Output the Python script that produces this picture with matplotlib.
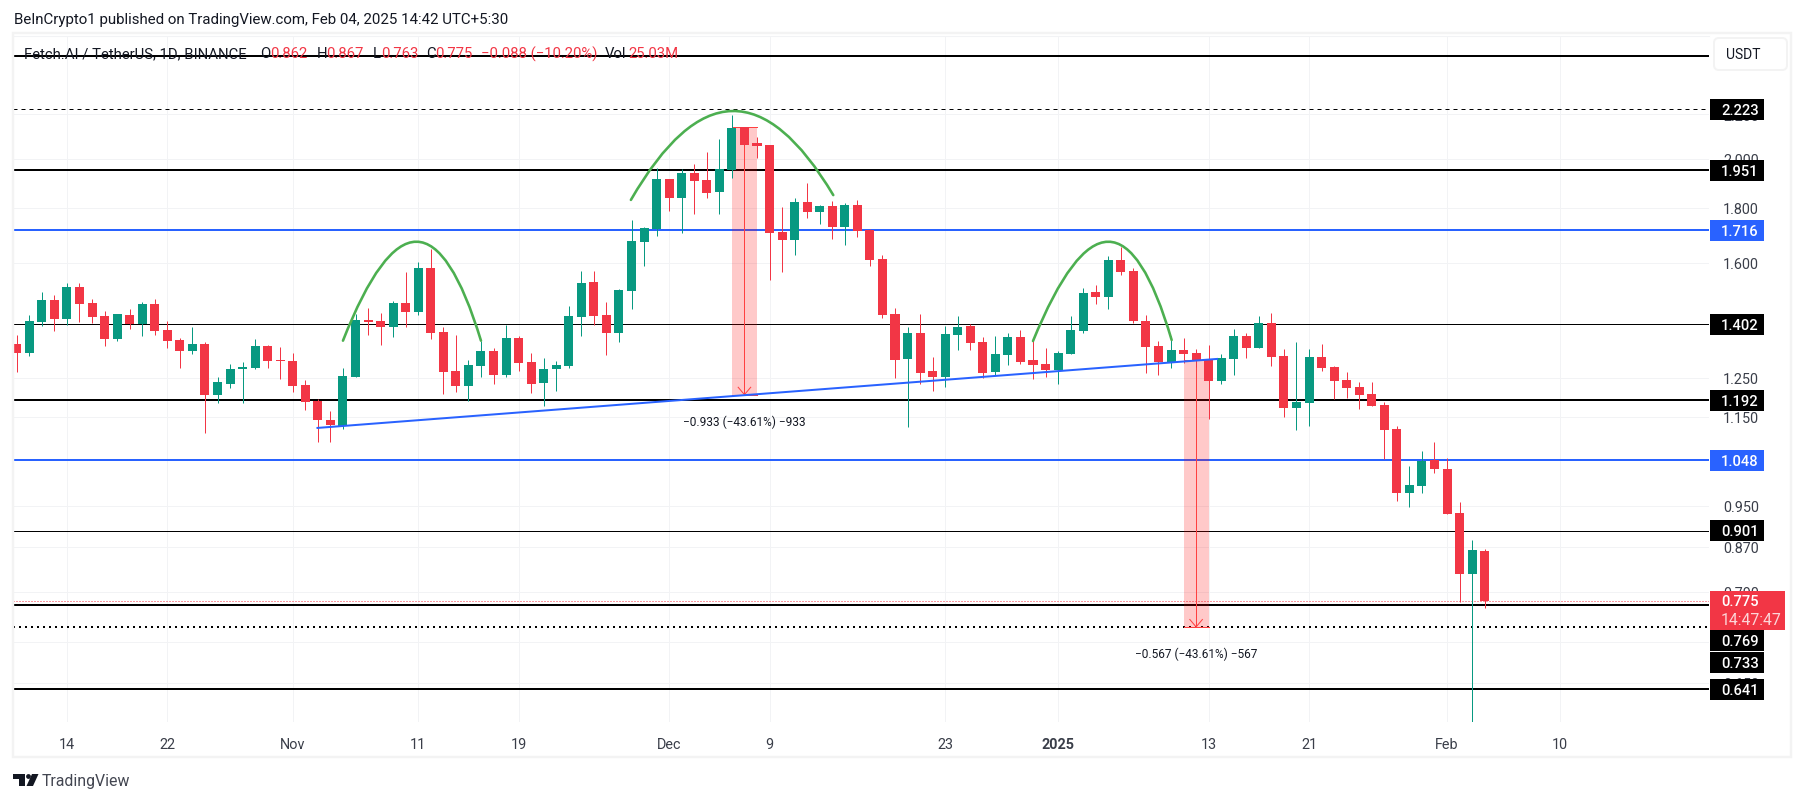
import numpy as np
import pandas as pd
import matplotlib
matplotlib.use("Agg")
import matplotlib.pyplot as plt
import matplotlib.dates as mdates
from matplotlib.patches import Rectangle, FancyBboxPatch, PathPatch, Polygon
from matplotlib.path import Path
from matplotlib.ticker import NullLocator

plt.rcParams['font.family'] = ['Roboto', 'DejaVu Sans']

# FET/USDT daily candles from 2024-10-10
opens = [1.344,1.319,1.409,1.477,1.418,1.519,1.468,1.427,1.359,1.431,1.402,1.465,1.385,1.356,1.324,1.344,1.205,1.234,1.274,1.277,
         1.339,1.299,1.296,1.231,1.190,1.142,1.128,1.252,1.415,1.412,1.394,1.468,1.440,1.582,1.379,1.269,1.229,1.282,1.324,1.258,
         1.362,1.293,1.236,1.274,1.283,1.424,1.535,1.431,1.376,1.506,1.673,1.720,1.915,1.838,1.940,1.911,1.862,1.952,2.139,2.068,
         2.060,1.709,1.680,1.823,1.784,1.807,1.728,1.811,1.716,1.613,1.434,1.302,1.376,1.269,1.252,1.370,1.397,1.350,1.266,1.313,
         1.365,1.299,1.288,1.271,1.316,1.382,1.503,1.487,1.610,1.572,1.412,1.339,1.291,1.327,1.319,1.302,1.242,1.302,1.368,1.333,
         1.406,1.310,1.172,1.185,1.307,1.280,1.244,1.226,1.208,1.179,1.120,0.977,0.991,1.048,1.028,0.936,0.821,0.862]
highs = [1.370,1.431,1.503,1.493,1.532,1.532,1.480,1.443,1.434,1.449,1.471,1.480,1.412,1.362,1.394,1.350,1.252,1.288,1.293,1.359,
         1.341,1.336,1.319,1.244,1.195,1.164,1.277,1.434,1.452,1.437,1.474,1.569,1.603,1.648,1.394,1.370,1.299,1.353,1.333,1.400,
         1.368,1.319,1.305,1.296,1.458,1.572,1.572,1.471,1.513,1.754,1.728,1.961,1.915,1.956,1.977,2.029,2.086,2.196,2.142,2.095,
         2.060,1.803,1.838,1.898,1.811,1.827,1.819,1.831,1.720,1.627,1.452,1.394,1.434,1.307,1.397,1.427,1.403,1.365,1.368,1.376,
         1.385,1.356,1.333,1.324,1.427,1.516,1.526,1.623,1.655,1.582,1.431,1.353,1.369,1.362,1.330,1.341,1.316,1.388,1.376,1.427,
         1.437,1.330,1.350,1.330,1.344,1.282,1.266,1.239,1.239,1.187,1.128,1.035,1.069,1.090,1.053,0.958,0.883,0.867]
lows = [1.267,1.311,1.397,1.382,1.400,1.409,1.406,1.339,1.353,1.388,1.368,1.370,1.333,1.277,1.316,1.111,1.185,1.223,1.185,1.274,
        1.277,1.247,1.213,1.167,1.090,1.090,1.120,1.252,1.370,1.341,1.365,1.394,1.431,1.359,1.208,1.213,1.190,1.252,1.234,1.252,
        1.269,1.210,1.177,1.215,1.278,1.368,1.400,1.313,1.350,1.449,1.589,1.695,1.788,1.705,1.776,1.838,1.776,1.919,2.060,2.003,
        1.542,1.569,1.627,1.761,1.739,1.684,1.662,1.691,1.589,1.421,1.250,1.125,1.234,1.215,1.226,1.327,1.327,1.250,1.258,1.285,
        1.288,1.247,1.252,1.234,1.316,1.376,1.465,1.449,1.559,1.406,1.263,1.258,1.277,1.291,1.280,1.145,1.234,1.258,1.305,1.333,
        1.282,1.150,1.118,1.128,1.269,1.195,1.197,1.169,1.177,1.051,0.960,0.948,0.977,1.019,0.934,0.774,0.544,0.763]
closes = [1.319,1.412,1.477,1.418,1.519,1.465,1.424,1.359,1.434,1.402,1.465,1.382,1.353,1.324,1.344,1.205,1.239,1.274,1.280,1.339,
          1.296,1.296,1.229,1.187,1.142,1.130,1.255,1.415,1.409,1.394,1.468,1.440,1.582,1.376,1.266,1.229,1.285,1.324,1.258,1.362,
          1.291,1.234,1.274,1.285,1.427,1.532,1.427,1.376,1.509,1.676,1.724,1.915,1.838,1.940,1.907,1.858,1.956,2.136,2.060,2.055,
          1.705,1.680,1.823,1.784,1.807,1.728,1.811,1.713,1.610,1.431,1.299,1.376,1.263,1.252,1.373,1.394,1.347,1.263,1.316,1.365,
          1.293,1.285,1.271,1.319,1.385,1.500,1.487,1.610,1.569,1.412,1.336,1.293,1.327,1.316,1.296,1.242,1.305,1.368,1.333,1.406,
          1.307,1.172,1.187,1.307,1.277,1.242,1.223,1.205,1.177,1.118,0.977,0.994,1.046,1.028,0.934,0.821,0.864,0.775]

tick_dates = ['2024-10-14','2024-10-22','2024-11-01','2024-11-11','2024-11-19','2024-12-01','2024-12-09',
              '2024-12-23','2025-01-01','2025-01-13','2025-01-21','2025-02-01','2025-02-10']
tick_labels = ['14','22','Nov','11','19','Dec','9','23','2025','13','21','Feb','10']
price_ticks = [2.2,2.0,1.8,1.6,1.25,1.15,0.95,0.87,0.79,0.71,0.65]

# horizontal levels: price, colour, width in px, style
levels = [(2.493,'black',2,'-'),(2.223,'black',1,(0,(4,4))),(1.951,'black',2,'-'),(1.716,'#2962ff',2,'-'),
          (1.402,'black',1,'-'),(1.192,'black',2,'-'),(1.048,'#2962ff',2,'-'),(0.901,'black',1,'-'),
          (0.769,'black',2,'-'),(0.733,'black',2,(0,(1,2))),(0.641,'black',2,'-')]
# price tags: value, background, shift of the tag from its level in px
tags = [(2.223,'black',0),(1.951,'black',0),(1.716,'#2962ff',0),(1.402,'black',0),(1.192,'black',0),
        (1.048,'#2962ff',0),(0.901,'black',0),(0.769,'black',36),(0.733,'black',36),(0.641,'black',0)]
last_price = 0.775

# head shapes: start, top control, end as (days after Oct 14, price)
arc_days = [(22.00,28.2,33.00),(44.95,53.00,61.08),(77.00,83.45,88.05)]
arc_prices = [(1.354,2.070,1.354),(1.831,2.667,1.850),(1.353,2.069,1.356)]
trend_days = [19.97,91.66]
trend_prices = [1.123,1.302]
# price range boxes
box_days = [(53,55),(89,91)]
box_prices = [(2.139,1.206),(1.300,0.733)]
box_labels = ['\u22120.933 (\u221243.61%) \u2212933','\u22120.567 (\u221243.61%) \u2212567']

px = 0.72  # points per pixel at dpi 100
RED, GREEN, BLUE = '#f23645', '#089981', '#2962ff'
GRID, FRAME, TEXT = '#f2f3f5', '#f3f3f3', '#131722'

dates = pd.date_range('2024-10-10', periods=len(opens))
x = mdates.date2num(dates)
base = mdates.date2num(pd.Timestamp('2024-10-14'))

fig = plt.figure(figsize=(18.04, 8.03), dpi=100, facecolor='white')
ax = fig.add_axes([13/1804, (803-723)/803, (1709-13)/1804, (723-37)/803])
ax.set_yscale('log')
ax.set_ylim(0.5978, 2.602)
ax.set_xlim(base - 4.30, base + 130.88)

for s in ['left', 'right', 'bottom']:
    ax.spines[s].set_visible(False)
ax.spines['top'].set_color(GRID)

ax.yaxis.tick_right()
ax.set_yticks(price_ticks)
ax.set_yticklabels([f'{v:.3f}' for v in price_ticks], fontsize=10.4, color='#3a3e49')
ax.yaxis.set_minor_locator(NullLocator())
ax.tick_params(axis='y', which='both', length=0, pad=10)
ax.set_xticks(mdates.date2num(pd.to_datetime(tick_dates)))
ax.set_xticklabels(tick_labels, fontsize=10.4, color='#3a3e49')
ax.tick_params(axis='x', length=0, pad=11)
ax.get_xticklabels()[tick_labels.index('2025')].set_fontweight('bold')
ax.grid(True, color=GRID, lw=1*px, zorder=0)
ax.set_axisbelow(True)

for val, col, w, ls in levels:
    ax.axhline(val, color=col, lw=w*px, ls=ls, zorder=2)
ax.axhline(last_price, color=RED, lw=1*px, ls=(0,(1,2)), zorder=2)

# range boxes sit over the levels and under the candles
for (d0, d1), (p0, p1) in zip(box_days, box_prices):
    ax.fill_between([base+d0, base+d1], p1, p0, color='#ff0000', alpha=0.21, lw=0, zorder=3)
    ax.plot([base+d0, base+d1], [p0, p0], color='#ff4040', lw=1*px, zorder=3)
    ax.plot([base+d0, base+d1], [p1, p1], color='#ff4040', lw=1*px, zorder=3)
    mid = base + (d0+d1)/2
    ax.plot([mid, mid], [p0, p1], color='#ff4040', lw=1*px, zorder=4)
    ax.plot([mid-0.5, mid, mid+0.5], [p1*1.016, p1, p1*1.016], color='#ff4040', lw=1*px, zorder=4)

o, h, l, c = map(np.array, (opens, highs, lows, closes))
cols = np.where(c > o, GREEN, RED)
ax.vlines(x, l, h, colors=cols, lw=1*px, zorder=5)
ax.bar(x, np.abs(c-o), bottom=np.minimum(o, c), width=0.72, color=cols, lw=0, zorder=5)

for days, prices in zip(arc_days, arc_prices):
    verts = [(base+d, p) for d, p in zip(days, prices)]
    arc = PathPatch(Path(verts, [Path.MOVETO, Path.CURVE3, Path.CURVE3]), fc='none', ec='#4caf50',
                    lw=2.6*px, transform=ax.transData, zorder=6, capstyle='round')
    ax.add_patch(arc)
ax.plot([base+d for d in trend_days], trend_prices, color=BLUE, lw=2*px, zorder=6)

fig.canvas.draw()

# everything outside the price scale is placed in figure pixels on a top layer
top = fig.add_axes([0, 0, 1, 1], zorder=10)
top.set_xlim(0, 1804)
top.set_ylim(803, 0)
top.axis('off')
top.patch.set_alpha(0)

def price_y(p):
    return 803 - ax.transData.transform((base, p))[1]

for (d0, d1), (p0, p1), lab in zip(box_days, box_prices, box_labels):
    mx = ax.transData.transform((base+(d0+d1)/2, p1))[0]
    top.text(mx, price_y(p1)+26.5, lab, fontsize=8.6, color=TEXT, ha='center', va='center')

top.add_patch(Rectangle((12.5, 34), 1778, 724, fc='none', ec=FRAME, lw=2.4*px))

for val, col, shift in tags:
    y = price_y(val) + shift
    top.add_patch(Rectangle((1710, y-10.5), 54, 21, fc=col, ec='none'))
    top.text(1721, y+0.5, f'{val:.3f}', fontsize=10.6, fontweight='medium', color='white', ha='left', va='center')

y = price_y(last_price)
top.add_patch(Rectangle((1710, 592), 75, 39, fc=RED, ec='none'))
top.text(1721, y+0.5, f'{last_price:.3f}', fontsize=10.6, fontweight='medium', color='white', ha='left', va='center')
top.text(1721, 620.5, '14:47:47', fontsize=11.3, color='#fcd5d8', ha='left', va='center')

top.add_patch(FancyBboxPatch((1714, 39), 73, 32, boxstyle='round,pad=0,rounding_size=5', fc='white', ec=FRAME, lw=2*px))
top.text(1743, 55, 'USDT', fontsize=10, color=TEXT, ha='center', va='center')

top.text(13.5, 20, 'BeInCrypto1 published on TradingView.com, Feb 04, 2025 14:42 UTC+5:30',
         fontsize=10.8, color=TEXT, ha='left', va='center')

# legend row above the chart
legend_row = [(23.5,'Fetch.AI / TetherUS, 1D, BINANCE',TEXT),(260,'O',TEXT),(270.6,'0.862',RED),(317,'H',TEXT),(326,'0.867',RED),
              (373,'L',TEXT),(381,'0.763',RED),(426,'C',TEXT),(435.5,'0.775',RED),(481,'\u22120.088 (\u221210.20%)',RED),
              (605,'Vol',TEXT),(628,'25.03M',RED)]
for lx, s, col in legend_row:
    top.text(lx, 54, s, fontsize=10.7, color=col, ha='left', va='center')

# TradingView mark
top.add_patch(Polygon([(13,775),(25,775),(25,787),(19,787),(19,780),(13,780)], fc='#131722', ec='none'))
top.add_patch(plt.Circle((28.5,777.5), 2.4, fc='#131722', ec='none'))
top.add_patch(Polygon([(32,775),(38.5,775),(33,787),(26.5,787)], fc='#131722', ec='none'))
top.text(42, 781.5, 'TradingView', fontsize=11.4, color='#434651', ha='left', va='center')

plt.savefig('out.png', dpi=100)
